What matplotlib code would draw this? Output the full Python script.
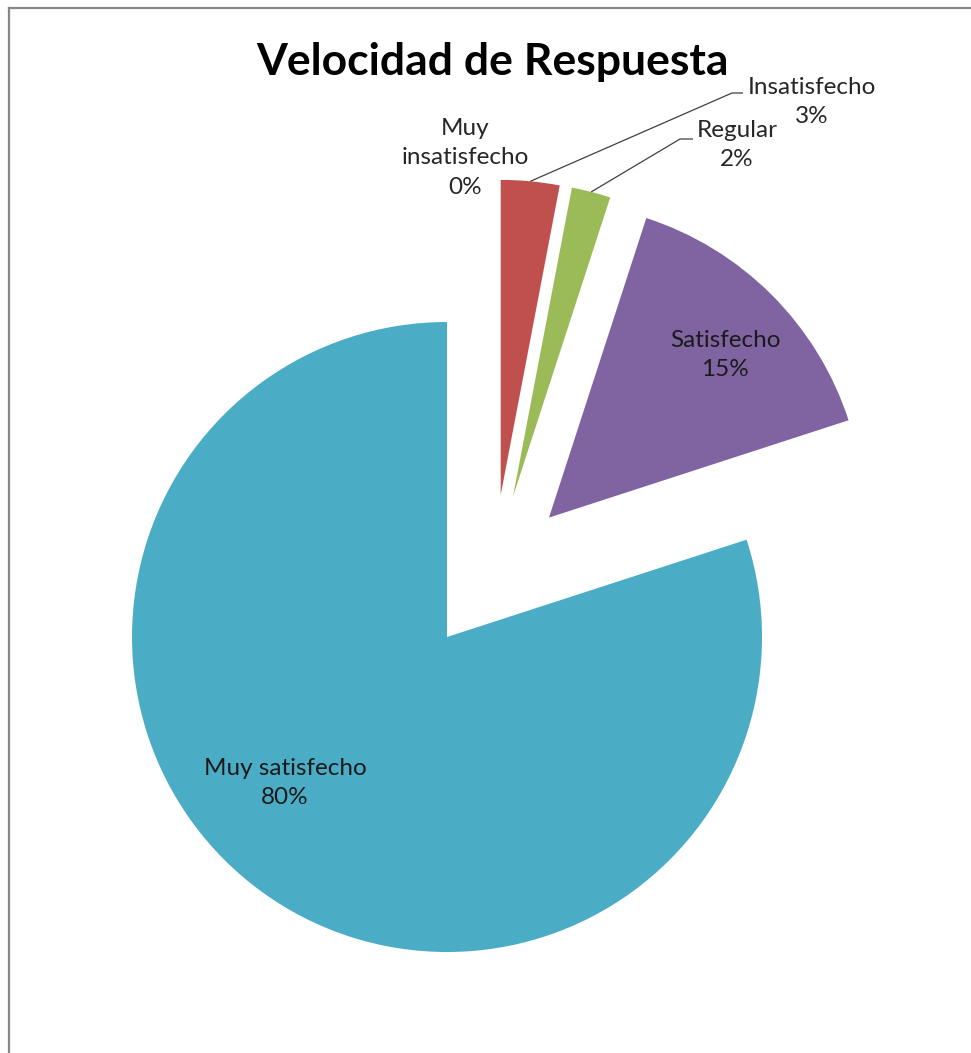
import numpy as np
import matplotlib.pyplot as plt
from matplotlib.lines import Line2D

categories = ["Muy insatisfecho", "Insatisfecho", "Regular", "Satisfecho", "Muy satisfecho"]
values = [0, 3, 2, 15, 80]
colors = ["#4F81BD", "#C0504D", "#9BBB59", "#8064A2", "#4BACC6"]
explode = [0.25] * 5

W, H = 971, 1053
R_PX = 315.0            # pie radius in pixels
CX, CY = 493.3, 573.3   # pie centre in pixels (from top-left)


def to_data(px, py):
    return (px - CX) / R_PX, (CY - py) / R_PX


fig = plt.figure(figsize=(W / 100, H / 100), dpi=100)
ax = fig.add_axes([0, 0, 1, 1])

wedges, _ = ax.pie(values, colors=colors, explode=explode, startangle=90,
                   counterclock=False, radius=1.0,
                   wedgeprops=dict(linewidth=0))
ax.set_aspect("auto")
ax.set_xlim(-CX / R_PX, (W - CX) / R_PX)
ax.set_ylim(-(H - CY) / R_PX, CY / R_PX)
ax.axis("off")

font = "Lato"
lab_size = 17.5

# chart title
fig.text(492 / W, 1 - 62 / H, "Velocidad de Respuesta", ha="center", va="center",
         fontsize=32, fontweight="bold", family=font, color="black")


def pct(v):
    return f"{round(100 * v / sum(values))}%"


# labels placed outside with leader lines
outside = {
    0: (465, 158),
    1: (812, 102),
    2: (737, 145),
}
inside = {
    3: (725, 355),
    4: (285, 783),
}
for i, (px, py) in outside.items():
    x, y = to_data(px, py)
    label = categories[i].replace(" ", "\n") if i == 0 else categories[i]
    ax.text(x, y, f"{label}\n{pct(values[i])}", ha="center", va="center",
            fontsize=lab_size, family=font, color="#262626", linespacing=1.5)

for i, (px, py) in inside.items():
    x, y = to_data(px, py)
    ax.text(x, y, f"{categories[i]}\n{pct(values[i])}", ha="center", va="center",
            fontsize=lab_size, family=font, color="#1a1a1a", linespacing=1.5)

# leader lines from wedge rim to the labels
leader_ends = {1: (732, 743, 93), 2: (680, 693, 139)}
for i, (x0, x1, ly) in leader_ends.items():
    w = wedges[i]
    mid = np.deg2rad((w.theta1 + w.theta2) / 2)
    cx, cy = w.center
    rx, ry = cx + w.r * np.cos(mid), cy + w.r * np.sin(mid)
    ax0, ay = to_data(x0, ly)
    ax1, _ = to_data(x1, ly)
    ax.plot([rx, ax0, ax1], [ry, ay, ay], color="#404040", lw=0.9,
            solid_capstyle="butt")

# chart area border (left and top edges)
fig.add_artist(Line2D([8.5 / W, 8.5 / W], [0, 1 - 8 / H], transform=fig.transFigure,
                      color="#878787", lw=1.6))
fig.add_artist(Line2D([8.5 / W, 1], [1 - 8 / H, 1 - 8 / H], transform=fig.transFigure,
                      color="#878787", lw=1.6))

fig.savefig("out.png", dpi=100)
